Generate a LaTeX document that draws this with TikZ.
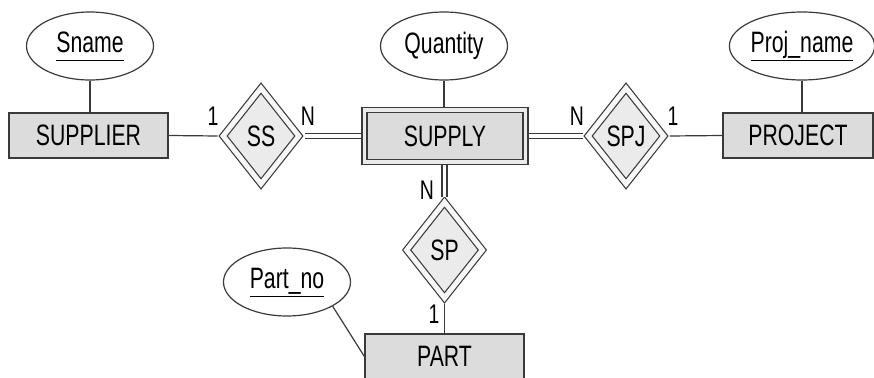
\documentclass[tikz,border=0pt]{standalone}
\usepackage{fontspec}
\usetikzlibrary{shapes.geometric}
\newfontfamily\erfont[FakeStretch=0.72]{Liberation Sans}
\definecolor{entfill}{HTML}{DCDCDC}
\definecolor{relfill}{HTML}{EBEBEB}
\definecolor{erline}{HTML}{3A3A3A}
\newcommand{\keyattr}[1]{\underline{#1\vphantom{j}}}

\begin{document}
\begin{tikzpicture}[x=1pt,y=-1pt,
  every node/.style={font=\erfont\fontsize{29.5}{31}\selectfont, text=black},
  entity/.style={rectangle, draw=erline, fill=entfill, line width=1.2pt,
                 minimum width=159pt, minimum height=45pt, inner sep=0pt},
  weakentity/.style={entity, minimum width=161pt, minimum height=52pt,
                 double=relfill, double distance=3.8pt, outer sep=3.2pt},
  attrib/.style={ellipse, draw=erline, fill=white, line width=1.2pt,
                 minimum width=127pt, minimum height=68pt, inner sep=0pt},
  identrel/.style={diamond, aspect=0.8, draw=erline, fill=relfill, line width=1.2pt,
                 minimum width=79pt, minimum height=99pt, inner sep=0pt,
                 double=white!60!relfill, double distance=5pt, outer sep=4pt},
  card/.style={inner sep=0pt, font=\erfont\fontsize{27}{29}\selectfont},
  link/.style={draw=erline, line width=1.2pt},
  totallink/.style={draw=erline, line width=1.1pt, double=white, double distance=3.9pt}]

\useasboundingbox (0,0) rectangle (874,377);

% entity types
\node [entity] (supplier) at (88.5,135.5) {SUPPLIER};
\node [entity, minimum width=150pt] (project) at (798,135.5) {PROJECT};
\node [entity] (part) at (444.5,356.5) {PART};
\node [weakentity] (supply) at (445,136) {SUPPLY};

% attributes
\node [attrib] (sname) at (90,46) {\keyattr{Sname}};
\node [attrib] (quantity) at (444,46) {Quantity};
\node [attrib] (projname) at (802,46) {\keyattr{Proj\_name}};
\node [attrib] (partno) at (287,282) {\keyattr{Part\_no}};

% identifying relationships
\node [identrel] (ss) at (261,136) {SS};
\node [identrel] (spj) at (626,136) {SPJ};
\node [identrel] (sp) at (444.5,250) {SP};

% attribute links
\draw [link] (sname) -- (sname |- supplier.north);
\draw [link] (quantity) -- (quantity |- supply.north);
\draw [link] (projname.south) -- (projname.south |- project.north);
\draw [link] (partno.-28) -- (part.west);

% relationship links
\draw [link] (supplier.east) -- (ss.west);
\draw [totallink] (ss.east) -- (supply.west);
\draw [totallink] (supply.east) -- (spj.west);
\draw [link] (spj.east) -- (project.west);
\draw [totallink] (supply.south -| sp.north) -- (sp.north);
\draw [link] (sp.south) -- (sp.south |- part.north);

% cardinalities
\node [card] (c-ss-1) at (213,116) {1};
\node [card] (c-ss-n) at (308,116) {N};
\node [card] (c-spj-n) at (577,116) {N};
\node [card] (c-spj-1) at (673,116) {1};
\node [card] (c-sp-n) at (427,190) {N};
\node [card] (c-sp-1) at (434,314) {1};

\end{tikzpicture}
\end{document}
